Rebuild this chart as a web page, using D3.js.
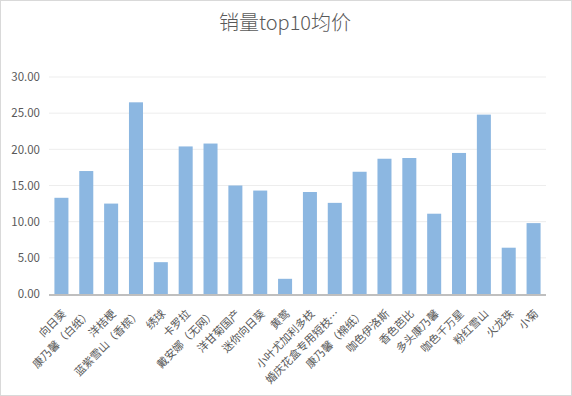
<!DOCTYPE html>
<html>
<head>
<meta charset="utf-8">
<script src="https://cdn.jsdelivr.net/npm/d3@7"></script>
<style>
  body { margin: 0; background: #fff; }
  text { font-family: "Noto Sans CJK SC", "Noto Sans", sans-serif; fill: #595959; }
</style>
</head>
<body>
<script>
// categories and values
let names = ['向日葵', '康乃馨（白纸）', '洋桔梗', '蓝紫雪山（香槟）', '绣球', '卡罗拉', '戴安娜（无网）',
             '洋甘菊国产', '迷你向日葵', '黄莺', '小叶尤加利多枝', '婚庆花盒专用短枝…', '康乃馨（棉纸）',
             '咖色伊洛斯', '香色芭比', '多头康乃馨', '咖色千万星', '粉红雪山', '火龙珠', '小菊'];
let prices = [13.3, 17.0, 12.5, 26.5, 4.4, 20.4, 20.8, 15.0, 14.3, 2.1,
              14.1, 12.6, 16.9, 18.7, 18.8, 11.1, 19.5, 24.8, 6.4, 9.8];
let yTicks = [0, 5, 10, 15, 20, 25, 30];

let svgWidth = 572, svgHeight = 396;
let margin = { top: 77, right: 26, bottom: 102, left: 49 };

let svg = d3.select('body').append('svg')
  .attr('width', svgWidth)
  .attr('height', svgHeight);

// outer frame
svg.append('rect')
  .attr('x', 0.5).attr('y', 0.5)
  .attr('width', svgWidth - 1).attr('height', svgHeight - 1)
  .attr('fill', '#fff').attr('stroke', '#d9d9d9');

let xScale = d3.scaleBand()
  .domain(names)
  .range([margin.left, svgWidth - margin.right])
  .paddingInner(0.436)
  .paddingOuter(0.218);

let yScale = d3.scaleLinear()
  .domain([0, 30])
  .range([svgHeight - margin.bottom, margin.top]);

// gridlines
svg.append('g').selectAll('line')
  .data(yTicks.slice(1))
  .enter().append('line')
    .attr('x1', margin.left).attr('x2', svgWidth - margin.right)
    .attr('y1', d => yScale(d)).attr('y2', d => yScale(d))
    .attr('stroke', '#ededed').attr('stroke-width', 1);

// y axis labels
let yAxis = d3.axisLeft(yScale).tickValues(yTicks).tickFormat(d3.format('.2f')).tickSize(0).tickPadding(9);
svg.append('g')
  .attr('transform', 'translate(' + margin.left + ',0)')
  .call(yAxis)
  .call(g => g.select('.domain').remove())
  .selectAll('text')
    .style('font-size', '11.5px')
    .attr('fill', '#595959');

// bars
svg.append('g').selectAll('rect')
  .data(prices)
  .enter().append('rect')
    .attr('x', (d, i) => xScale(names[i]))
    .attr('y', d => yScale(d))
    .attr('width', xScale.bandwidth())
    .attr('height', d => yScale(0) - yScale(d))
    .attr('fill', '#8cb7e1');

// baseline
svg.append('line')
  .attr('x1', margin.left).attr('x2', svgWidth - margin.right)
  .attr('y1', yScale(0) + 1).attr('y2', yScale(0) + 1)
  .attr('stroke', '#bfbfbf').attr('stroke-width', 2);

// x labels, rotated
svg.append('g').selectAll('text')
  .data(names)
  .enter().append('text')
    .attr('transform', d => 'translate(' + (xScale(d) + xScale.bandwidth() / 2) + ',' + (yScale(0) + 15) + ') rotate(-45)')
    .attr('text-anchor', 'end')
    .attr('dy', '0.7em')
    .style('font-size', '11px')
    .text(d => d);

// title
svg.append('text')
  .attr('x', 285).attr('y', 30)
  .attr('text-anchor', 'middle')
  .style('font-size', '20px')
  .style('font-weight', 300)
  .text('销量top10均价');
</script>
</body>
</html>
